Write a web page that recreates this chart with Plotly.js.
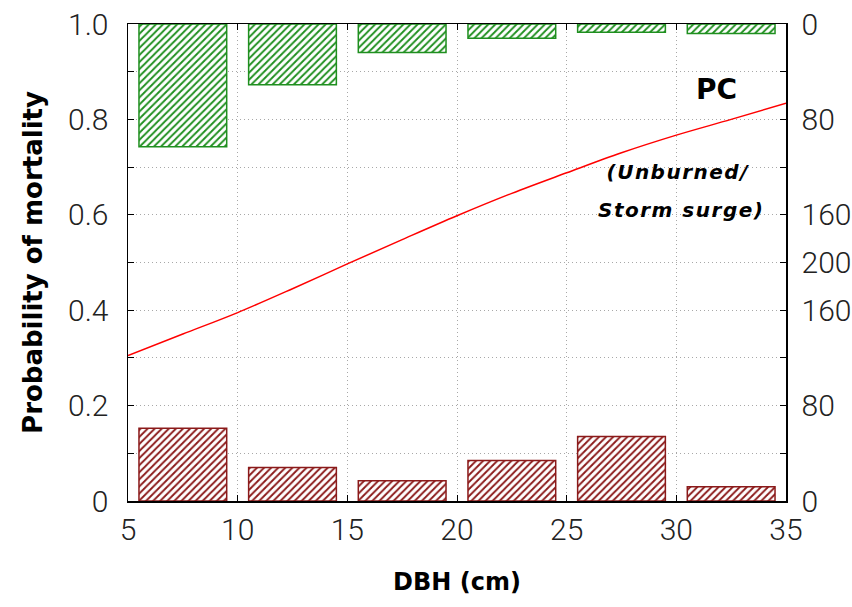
<!DOCTYPE html>
<html><head><meta charset="utf-8">
<script src="https://cdn.plot.ly/plotly-3.0.1.min.js"></script>
<style>html,body{margin:0;padding:0;background:#fff}#chart{width:852px;height:607px}</style>
</head><body><div id="chart"></div>
<script>
// DBH bin centres (cm)
const binCenters = [7.5, 12.5, 17.5, 22.5, 27.5, 32.5];
// Counts of dead trees (bottom histogram, right axis)
const deadCounts = [61, 28, 17, 34, 54, 12];
// Counts of surviving trees (top histogram, right axis, drawn downward)
const liveCounts = [103, 51, 24, 12, 7, 8];
// Fitted probability of mortality curve
const curveX = [5, 7.5, 10, 12.5, 15, 17.5, 20, 22.5, 25, 27.5, 30, 32.5, 35];
const curveY = [0.305, 0.35, 0.395, 0.445, 0.497, 0.548, 0.598, 0.645, 0.688, 0.73, 0.767, 0.80, 0.834];
// Right axis tick labels
const rightTickVals = [0, 80, 160, 200, 240, 320, 400];
const rightTickText = ['0', '80', '160', '200', '160', '80', '0'];

const tickFont = {family: 'Roboto, "Liberation Sans", Arial, sans-serif', size: 30, color: '#222', weight: 300};
const boldFam = '"DejaVu Sans", Verdana, sans-serif';
const gridCol = '#a8a8a8';
const gridDash = '1px,3px';

const traces = [
  {type: 'bar', x: binCenters, y: deadCounts, width: 4, yaxis: 'y2',
   marker: {color: '#ffffff', line: {color: '#8b1a1a', width: 1.5},
            pattern: {shape: '/', fgcolor: '#8b1a1a', bgcolor: '#ffffff', size: 5, solidity: 0.38}},
   hoverinfo: 'skip'},
  {type: 'bar', x: binCenters, y: liveCounts, width: 4, yaxis: 'y3',
   marker: {color: '#ffffff', line: {color: '#1f8f1f', width: 1.5},
            pattern: {shape: '/', fgcolor: '#1f8f1f', bgcolor: '#ffffff', size: 5, solidity: 0.38}},
   hoverinfo: 'skip'},
  {type: 'scatter', mode: 'lines', x: curveX, y: curveY, yaxis: 'y',
   line: {color: '#ff0000', width: 1.5, shape: 'spline'}, hoverinfo: 'skip'}
];

const layout = {
  width: 852, height: 607,
  margin: {l: 128, r: 66, t: 24, b: 106},
  paper_bgcolor: '#fff', plot_bgcolor: '#fff',
  showlegend: false, barmode: 'overlay',
  xaxis: {range: [5, 35], tickvals: [5, 10, 15, 20, 25, 30, 35], ticks: 'inside', ticklen: 6,
          tickcolor: '#000', showline: true, linecolor: '#000', linewidth: 1.5, mirror: 'ticks',
          showgrid: true, gridcolor: gridCol, griddash: gridDash, gridwidth: 1, zeroline: false,
          tickfont: tickFont, ticklabelstandoff: 1,
          title: {text: '<b>DBH (cm)</b>', font: {family: boldFam, size: 24, color: '#000'}, standoff: 27}},
  yaxis: {range: [0, 1], tickvals: [0, 0.2, 0.4, 0.6, 0.8, 1.0], ticktext: ['0', '0.2', '0.4', '0.6', '0.8', '1.0'],
          ticks: 'inside', ticklen: 6, tickcolor: '#000',
          showline: true, linecolor: '#000', linewidth: 1.5, mirror: true,
          showgrid: true, gridcolor: gridCol, griddash: gridDash, gridwidth: 1, zeroline: false,
          minor: {dtick: 0.1, tick0: 0, ticks: 'inside', ticklen: 6, tickcolor: '#000', showgrid: true, gridcolor: gridCol, griddash: gridDash},
          tickfont: tickFont, ticklabelstandoff: 12,
          title: {text: '<b>Probability of mortality</b>', font: {family: boldFam, size: 26, color: '#000'}, standoff: 18}},
  yaxis2: {range: [0, 400], overlaying: 'y', side: 'right', tickvals: rightTickVals, ticktext: rightTickText,
           ticks: 'inside', ticklen: 6, tickcolor: '#000', showline: true, linecolor: '#000', linewidth: 1.5,
           showgrid: false, zeroline: false,
           minor: {dtick: 40, tick0: 0, ticks: 'inside', ticklen: 6, tickcolor: '#000', showgrid: false},
           tickfont: tickFont, ticklabelstandoff: 8},
  yaxis3: {range: [400, 0], overlaying: 'y', side: 'right', visible: false, showgrid: false, zeroline: false},
  annotations: [
    {xref: 'x', yref: 'y', x: 31.85, y: 0.862, text: '<b>PC</b>', showarrow: false,
     font: {family: boldFam, size: 28, color: '#000'}},
    {xref: 'x', yref: 'y', x: 30.1, y: 0.69, text: '<b><i>(Unburned/</i></b>', showarrow: false,
     font: {family: boldFam, size: 20, color: '#000'}},
    {xref: 'x', yref: 'y', x: 30.2, y: 0.61, text: '<b><i>Storm surge)</i></b>', showarrow: false,
     font: {family: boldFam, size: 20, color: '#000'}}
  ]
};

Plotly.newPlot('chart', traces, layout, {displayModeBar: false, staticPlot: true}).then(function () {
  document.querySelectorAll('.annotation-text').forEach(function (t, i) {
    if (i > 0) t.style.letterSpacing = '1.5px';
  });
});
</script>
</body></html>
